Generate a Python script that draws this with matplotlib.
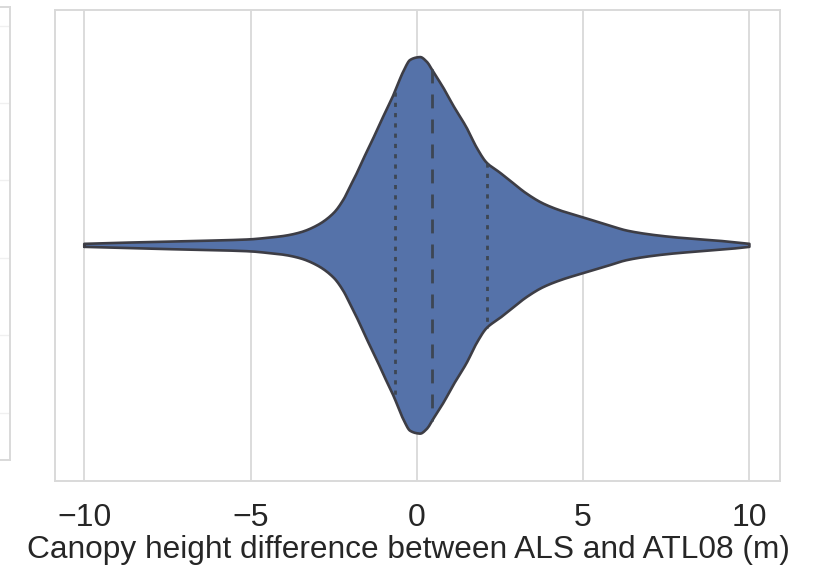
import numpy as np
import matplotlib
matplotlib.use("Agg")
import matplotlib.pyplot as plt
import seaborn as sns

sns.set_theme(style="whitegrid")
plt.rcParams['font.family'] = ['Liberation Sans', 'DejaVu Sans']

# Violin outline: canopy height difference (m) vs relative half-width
diff_m = [-10.0, -9.0, -8.0, -7.0, -6.0, -5.0, -4.5, -4.0, -3.5, -3.0, -2.5, -2.2, -2.0,
          -1.8, -1.5, -1.2, -1.0, -0.7, -0.4, -0.2, 0.0, 0.1, 0.3, 0.5, 0.8, 1.1, 1.5,
          1.8, 2.1, 2.5, 2.8, 3.3, 3.8, 4.4, 5.0, 5.7, 6.3, 7.0, 7.8, 8.5, 9.3, 10.0]
rel_width = [0.008, 0.013, 0.018, 0.022, 0.026, 0.032, 0.040, 0.050, 0.069, 0.106, 0.172,
             0.245, 0.315, 0.385, 0.500, 0.610, 0.688, 0.800, 0.926, 0.985, 0.998, 1.0,
             0.975, 0.920, 0.836, 0.741, 0.624, 0.519, 0.439, 0.386, 0.344, 0.275, 0.222,
             0.180, 0.148, 0.111, 0.079, 0.058, 0.042, 0.032, 0.021, 0.008]
quartiles = [-0.66, 0.45, 2.1]   # Q1, median, Q3
xticks = [-10, -5, 0, 5, 10]
xlabel = "Canopy height difference between ALS and ATL08 (m)"


def pchip(xk, yk, xs):
    """Monotone cubic curve through the read points (used only to draw a smooth outline)."""
    xk = np.asarray(xk, float); yk = np.asarray(yk, float)
    h = np.diff(xk); d = np.diff(yk) / h
    m = np.zeros_like(yk)
    for k in range(1, len(xk) - 1):
        if d[k - 1] * d[k] > 0:
            w1 = 2 * h[k] + h[k - 1]; w2 = h[k] + 2 * h[k - 1]
            m[k] = (w1 + w2) / (w1 / d[k - 1] + w2 / d[k])
    m[0] = d[0]; m[-1] = d[-1]
    idx = np.clip(np.searchsorted(xk, xs) - 1, 0, len(xk) - 2)
    t = (xs - xk[idx]) / h[idx]
    h00 = 2 * t**3 - 3 * t**2 + 1; h10 = t**3 - 2 * t**2 + t
    h01 = -2 * t**3 + 3 * t**2; h11 = t**3 - t**2
    return h00 * yk[idx] + h10 * h[idx] * m[idx] + h01 * yk[idx + 1] + h11 * h[idx] * m[idx + 1]


W, H = 814, 572
fig = plt.figure(figsize=(W / 100, H / 100), dpi=100)

# partial neighbouring panel at the left edge
axl = fig.add_axes([-0.3, (572 - 460) / 572, 0.3 + 10 / 814, (460 - 7) / 572])
axl.set_ylim(-0.61, 5.24)
axl.set_yticks([0, 1, 2, 3, 4, 5])
axl.set_xticks([])
axl.tick_params(labelleft=False, left=False)
axl.grid(True, axis='y', color='#f0f0f0', linewidth=1)
axl.grid(False, axis='x')
for s in axl.spines.values():
    s.set_color('#d9d9d9')
    s.set_linewidth(1.4)

ax = fig.add_axes([55 / 814, (572 - 480.7) / 572, (780 - 55) / 814, (480.7 - 10) / 572])
xs = np.linspace(diff_m[0], diff_m[-1], 800)
hw = 0.4 * pchip(diff_m, rel_width, xs)
ax.fill_between(xs, -hw, hw, facecolor='#5572a9', edgecolor='none', zorder=2)
ax.plot(np.r_[xs, xs[::-1], xs[0]], np.r_[hw, -hw[::-1], hw[0]], color='#3d3d45', lw=1.9, zorder=3,
        solid_joinstyle='round')

for i, q in enumerate(quartiles):
    h = np.interp(q, xs, hw)
    ls = (0, (5, 4)) if i == 1 else (0, (1.5, 2.2))
    ax.plot([q, q], [-h, h], color='#3d4653', lw=2.0, linestyle=ls, zorder=3)

ax.set_xlim(-10.88, 10.92)
ax.set_ylim(0.5, -0.5)
ax.set_xticks(xticks)
ax.set_xticklabels([f"{t}".replace('-', '\u2212') for t in xticks])
ax.set_yticks([])
ax.grid(True, axis='x', color='#d9d9d9', linewidth=1.3)
ax.grid(False, axis='y')
ax.tick_params(axis='x', labelsize=23, colors='#262626', pad=16, length=0)
ax.set_xlabel(xlabel, fontsize=22.8, color='#262626', labelpad=1.5)
ax.xaxis.label.set_x(0.4876)
for s in ax.spines.values():
    s.set_color('#d9d9d9')
    s.set_linewidth(1.4)

fig.savefig("out.png", dpi=100)
